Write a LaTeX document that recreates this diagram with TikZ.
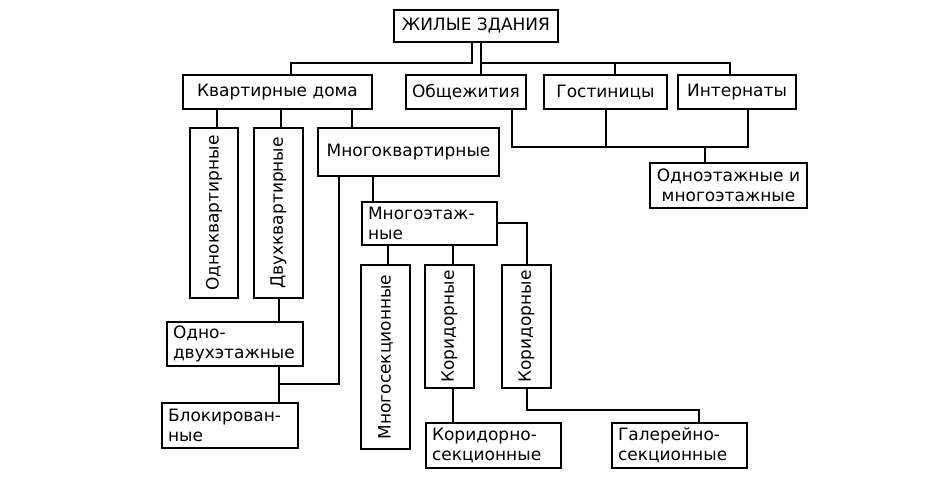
\documentclass[tikz,border=0pt]{standalone}
\usepackage{fontspec}
\setmainfont{DejaVu Sans}

\tikzset{
  box/.style={draw, line width=1pt, inner sep=0pt, font=\fontsize{8.5}{10}\selectfont},
  twoline/.style={box, inner xsep=3pt, align=left},
  link/.style={line width=1pt}
}

\begin{document}
\begin{tikzpicture}[x=0.5pt, y=-0.5pt]
      \useasboundingbox (0,0) rectangle (939,486);

      % top level
      \node[box, minimum width=82pt, minimum height=16pt] (root) at (476,26) {ЖИЛЫЕ ЗДАНИЯ};

      \node[box, minimum width=94.5pt, minimum height=17pt] (kd) at (277.5,92) {Квартирные дома};
      \node[box, minimum width=60pt, minimum height=17pt] (ob) at (466,92) {Общежития};
      \node[box, minimum width=61.5pt, minimum height=17pt] (gost) at (605.5,92) {Гостиницы};
      \node[box, minimum width=59pt, minimum height=17pt] (int) at (737,92) {Интернаты};
      \node[box, align=center, text width=78.5pt, minimum height=22.5pt] (om) at (728.5,185.5) {Одноэтажные и\\многоэтажные};

      % apartment houses
      \node[box, minimum width=24pt, minimum height=85pt] (odn) at (214,213) {\rotatebox{90}{Одноквартирные}};
      \node[box, minimum width=24.5pt, minimum height=85pt] (dv) at (278.5,213) {\rotatebox{90}{Двухквартирные}};
      \node[box, minimum width=90.5pt, minimum height=24pt] (mk) at (408.5,152) {Многоквартирные};

      \node[twoline, text width=61.5pt, minimum height=21.5pt] (me) at (429.5,223.5) {Многоэтаж-\\ные};
      \node[twoline, text width=62pt, minimum height=22pt] (odv) at (235,344) {Одно-\\двухэтажные};
      \node[twoline, text width=62pt, minimum height=22.5pt] (bl) at (230,425.5) {Блокирован-\\ные};

      % multi-storey
      \node[box, minimum width=24.5pt, minimum height=92pt] (ms) at (385.5,357) {\rotatebox{90}{Многосекционные}};
      \node[box, minimum width=24.5pt, minimum height=61.5pt] (k1) at (449.5,326.5) {\rotatebox{90}{Коридорные}};
      \node[box, minimum width=24.5pt, minimum height=61.5pt] (k2) at (526.5,326.5) {\rotatebox{90}{Коридорные}};
      \node[twoline, text width=61.5pt, minimum height=22.5pt] (ks) at (493.5,445.5) {Коридорно-\\секционные};
      \node[twoline, text width=61.5pt, minimum height=22.5pt] (gs) at (679.5,445.5) {Галерейно-\\секционные};

      % bus lines
      \coordinate (tbus) at (476,63);
      \coordinate (bbus) at (630,147);
      \coordinate (jb) at (279,384);

      % draw the links from the top
      \draw[link] ([xshift=-2pt]root.south) |- ([xshift=6.75pt]kd.north |- tbus) -- ([xshift=6.75pt]kd.north);
      \draw[link] ([xshift=2.5pt]root.south) |- ([xshift=-3.5pt]int.north |- tbus) -- ([xshift=-3.5pt]int.north);
      \draw[link] ([xshift=7.5pt]ob.north) -- ([xshift=7.5pt]ob.north |- tbus);
      \draw[link] ([xshift=4.75pt]gost.north) -- ([xshift=4.75pt]gost.north |- tbus);

      \draw[link] ([xshift=23pt]ob.south) |- ([xshift=5.5pt]int.south |- bbus) -- ([xshift=5.5pt]int.south);
      \draw[link] (gost.south) -- (gost.south |- bbus);
      \draw[link] ([xshift=-11.75pt]om.north) -- ([xshift=-11.75pt]om.north |- bbus);

      % draw the links of the apartment houses
      \draw[link] ([xshift=1.5pt]odn.north) -- ([xshift=1.5pt]odn.north |- kd.south);
      \draw[link] ([xshift=1.25pt]dv.north) -- ([xshift=1.25pt]dv.north |- kd.south);
      \draw[link] ([xshift=-28.25pt]mk.north) -- ([xshift=-28.25pt]mk.north |- kd.south);

      \draw[link] (dv.south) -- (dv.south |- odv.north);
      \draw[link] (dv.south |- odv.south) -- (dv.south |- bl.north);
      \draw[link] ([xshift=-34.75pt]mk.south) |- (jb);
      \draw[link] ([xshift=-28.25pt]me.north) -- ([xshift=-28.25pt]me.north |- mk.south);

      % draw the links of the multi-storey houses
      \draw[link] ([xshift=1.25pt]ms.north) -- ([xshift=1.25pt]ms.north |- me.south);
      \draw[link] ([xshift=1.75pt]k1.north) -- ([xshift=1.75pt]k1.north |- me.south);
      \draw[link] (me.east) -| (k2.north);

      \draw[link] ([xshift=1.75pt]k1.south) -- ([xshift=1.75pt]k1.south |- ks.north);
      \draw[link] (k2.south) -- ++(0,21) -| ([xshift=9.75pt]gs.north);
\end{tikzpicture}
\end{document}
